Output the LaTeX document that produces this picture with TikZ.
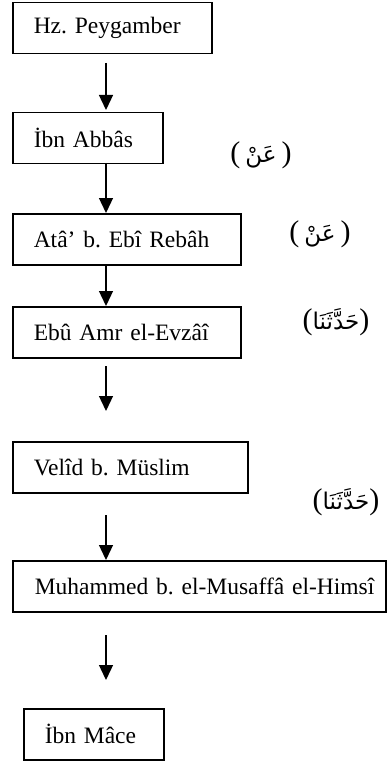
\documentclass[tikz,border=0pt]{standalone}
\usepackage{fontspec}
\setmainfont{Liberation Serif}
\newfontfamily\arabicfont[Script=Arabic]{DejaVu Sans}
\TeXXeTstate=1
\usetikzlibrary{arrows.meta}
\tikzset{
  namebox/.style={draw, line width=1.5pt, align=left, inner xsep=21pt, inner ysep=0pt,
    minimum height=51pt, font=\fontsize{23.5}{28}\selectfont\frenchspacing, anchor=north west},
  arr/.style={line width=1.3pt, -{Triangle[length=15pt,width=14pt]}},
  arlabel/.style={font=\fontsize{30}{34}\selectfont, inner sep=0pt}
}
\newcommand{\arab}[1]{{\arabicfont\fontsize{23}{28}\selectfont\beginR #1\endR}}
\begin{document}
\begin{tikzpicture}[x=1pt,y=-1pt]
\useasboundingbox (0,0) rectangle (386,762);
\node[namebox, text width=157pt] (b1) at (12,2) {Hz. Peygamber};
\node[namebox, text width=108pt] (b2) at (12,112) {İbn Abbâs};
\node[namebox, text width=186pt] (b3) at (12,213) {Atâ’ b. Ebî Rebâh};
\node[namebox, text width=186pt] (b4) at (12,306) {Ebû Amr el-Evzâî};
\node[namebox, text width=193pt] (b5) at (12,441) {Velîd b. Müslim};
\node[namebox, text width=351pt, inner xsep=11pt] (b6) at (12,560) {\hspace*{11pt}Muhammed b. el-Musaffâ el-Himsî};
\node[namebox, text width=98pt] (b7) at (23,708) {İbn Mâce};

\node[arlabel] (l1) at (261,155) {(\,\arab{عَنْ}\,)};
\node[arlabel] (l2) at (320,234) {(\,\arab{عَنْ}\,)};
\node[arlabel] (l3) at (336,322) {(\arab{حَدَّثَنَا})};
\node[arlabel] (l4) at (346,502) {(\arab{حَدَّثَنَا})};

\coordinate (a1s) at (106,63);  \coordinate (a1e) at (106,110);
\coordinate (a2s) at (106,163); \coordinate (a2e) at (106,213);
\coordinate (a3s) at (106,265); \coordinate (a3e) at (106,306);
\coordinate (a4s) at (106,366); \coordinate (a4e) at (106,411);
\coordinate (a5s) at (106,515); \coordinate (a5e) at (106,560);
\coordinate (a6s) at (106,635); \coordinate (a6e) at (106,680);
\draw[arr] (a1s) -- (a1e);
\draw[arr] (a2s) -- (a2e);
\draw[arr] (a3s) -- (a3e);
\draw[arr] (a4s) -- (a4e);
\draw[arr] (a5s) -- (a5e);
\draw[arr] (a6s) -- (a6e);
\end{tikzpicture}
\end{document}
